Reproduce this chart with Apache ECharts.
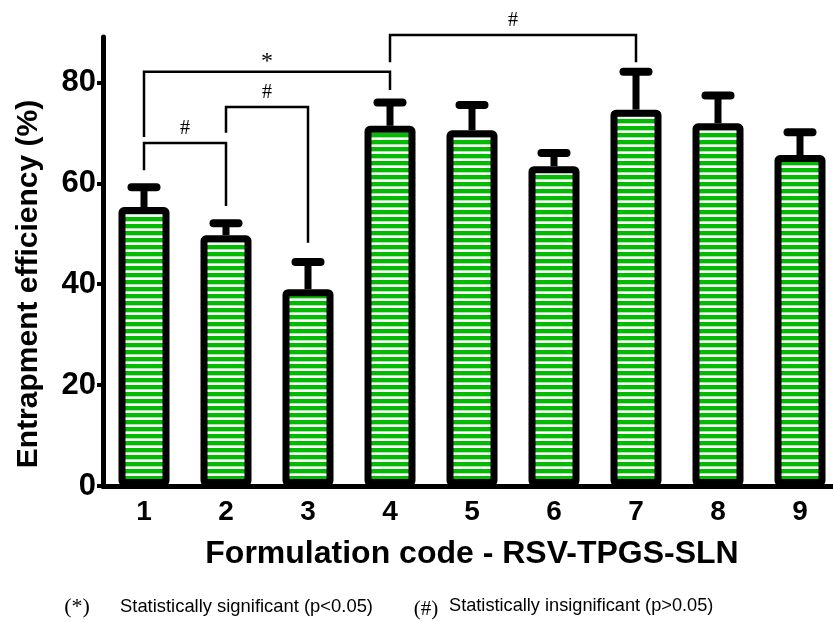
<!DOCTYPE html>
<html>
<head>
<meta charset="utf-8">
<script src="https://cdn.jsdelivr.net/npm/echarts@6/dist/echarts.min.js"></script>
<style>html,body{margin:0;padding:0;background:#fff}#c{width:833px;height:622px}</style>
</head>
<body>
<div id="c"></div>
<script>
// ---- data ----
var categories = ['1', '2', '3', '4', '5', '6', '7', '8', '9'];
var efficiency = [55.3, 49.7, 39.0, 71.4, 70.5, 63.4, 74.6, 71.9, 65.6];
var errorUp = [3.9, 2.4, 5.4, 4.6, 5.0, 2.6, 7.5, 5.5, 4.5];
var yTicks = [0, 20, 40, 60, 80];
// brackets: [fromIndex, toIndex, topLevel, leftLegEnd, rightLegEnd, mark]
var brackets = [
  [0, 1, 68.0, 62.6, 55.5, '#'],
  [1, 2, 75.1, 70.0, 48.2, '#'],
  [0, 3, 82.1, 69.2, 78.5, '*'],
  [3, 6, 89.4, 84.0, 84.0, '#']
];
var legendItems = [
  ['(*)', 'Statistically significant (p<0.05)'],
  ['(#)', 'Statistically insignificant (p>0.05)']
];

// stripe pattern
var pc = document.createElement('canvas');
pc.width = 8; pc.height = 7;
var pctx = pc.getContext('2d');
pctx.fillStyle = '#00bb00'; pctx.fillRect(0, 0, 8, 7);
pctx.fillStyle = '#a6e3a6'; pctx.fillRect(0, 4, 8, 1);
pctx.fillStyle = '#ffffff'; pctx.fillRect(0, 5, 8, 2);

var chart = echarts.init(document.getElementById('c'), null, {renderer: 'canvas'});

var errData = efficiency.map(function (v, i) { return [i, v, v + errorUp[i]]; });

var option = {
  animation: false,
  backgroundColor: '#ffffff',
  grid: {left: 103, top: 37, width: 738, height: 449, containLabel: false, outerBoundsMode: 'none'},
  xAxis: {
    type: 'category',
    data: categories,
    name: 'Formulation code - RSV-TPGS-SLN',
    nameLocation: 'middle',
    nameGap: 52,
    nameTextStyle: {fontFamily: 'Liberation Sans', fontWeight: 'bold', fontSize: 32, color: '#000'},
    axisLine: {lineStyle: {color: '#000', width: 5}},
    axisTick: {alignWithLabel: true, length: 8, lineStyle: {color: '#000', width: 4}},
    axisLabel: {fontFamily: 'Liberation Sans', fontWeight: 'bold', fontSize: 28, color: '#000', margin: 12}
  },
  yAxis: {
    type: 'value',
    min: 0,
    max: 89,
    interval: 20,
    axisLine: {show: true, lineStyle: {color: '#000', width: 5}},
    axisTick: {show: true, length: 6, customValues: yTicks, lineStyle: {color: '#000', width: 4}},
    axisLabel: {customValues: yTicks, fontFamily: 'Liberation Sans', fontWeight: 'bold', fontSize: 31, color: '#000', margin: 7},
    splitLine: {show: false}
  },
  graphic: [
    {type: 'text', x: 29, y: 284, rotation: Math.PI / 2,
     style: {text: 'Entrapment efficiency (%)', fontFamily: 'Liberation Sans', fontWeight: 'bold', fontSize: 30,
             fill: '#000', align: 'center', verticalAlign: 'middle'}},
    {type: 'text', x: 77, y: 607, style: {text: legendItems[0][0], fontFamily: 'Liberation Serif', fontSize: 22, fill: '#000', align: 'center', verticalAlign: 'middle'}},
    {type: 'text', x: 120, y: 607, style: {text: legendItems[0][1], fontFamily: 'Liberation Sans', fontSize: 18.4, fill: '#000', align: 'left', verticalAlign: 'middle'}},
    {type: 'text', x: 426, y: 609, style: {text: legendItems[1][0], fontFamily: 'Liberation Serif', fontSize: 21, fill: '#000', align: 'center', verticalAlign: 'middle'}},
    {type: 'text', x: 449, y: 606, style: {text: legendItems[1][1], fontFamily: 'Liberation Sans', fontSize: 18.2, fill: '#000', align: 'left', verticalAlign: 'middle'}}
  ],
  series: [
    {
      type: 'custom',
      z: 1,
      data: errData,
      renderItem: function (params, api) {
        var i = api.value(0);
        var p0 = api.coord([i, api.value(1)]);
        var p1 = api.coord([i, api.value(2)]);
        return {
          type: 'group',
          children: [
            {type: 'line', shape: {x1: p0[0], y1: p0[1], x2: p1[0], y2: p1[1]}, style: {stroke: '#000', lineWidth: 7}},
            {type: 'line', shape: {x1: p1[0] - 12.5, y1: p1[1], x2: p1[0] + 12.5, y2: p1[1]}, style: {stroke: '#000', lineWidth: 8, lineCap: 'round'}}
          ]
        };
      }
    },
    {
      type: 'bar',
      z: 2,
      data: efficiency,
      barWidth: 51,
      itemStyle: {
        color: {image: pc, repeat: 'repeat'},
        borderColor: '#000',
        borderWidth: 7,
        borderRadius: 2
      }
    },
    {
      type: 'custom',
      z: 3,
      clip: false,
      data: brackets,
      renderItem: function (params, api) {
        var a = api.value(0), b = api.value(1);
        var top = api.value(2), la = api.value(3), lb = api.value(4);
        var pTL = api.coord([a, top]), pTR = api.coord([b, top]);
        var pL = api.coord([a, la]), pR = api.coord([b, lb]);
        var mark = brackets[params.dataIndex][5];
        return {
          type: 'group',
          children: [
            {type: 'polyline', shape: {points: [[pL[0], pL[1]], [pTL[0], pTL[1]], [pTR[0], pTR[1]], [pR[0], pR[1]]]},
             style: {stroke: '#000', lineWidth: 2.5, fill: null}},
            {type: 'text', x: (pTL[0] + pTR[0]) / 2, y: pTL[1] - (mark === '*' ? 10 : 14),
             style: {text: mark, fontFamily: 'Liberation Serif', fontSize: mark === '*' ? 24 : 20, fill: '#000', align: 'center', verticalAlign: 'middle'}}
          ]
        };
      }
    }
  ]
};
chart.setOption(option);
</script>
</body>
</html>
